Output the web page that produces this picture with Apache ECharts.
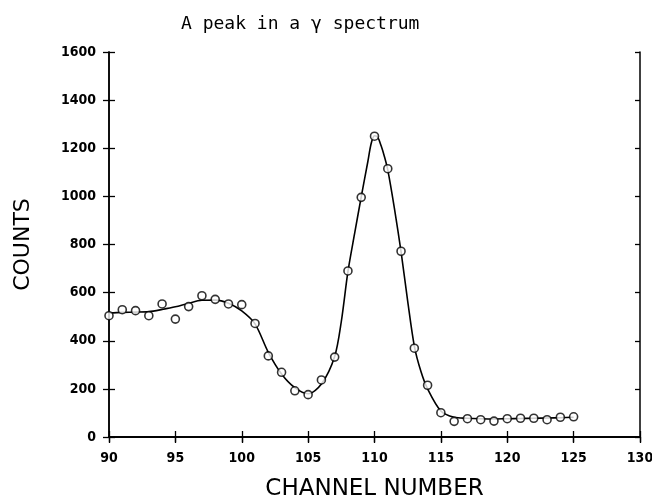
<!DOCTYPE html>
<html>
<head>
<meta charset="utf-8">
<script src="https://cdn.jsdelivr.net/npm/echarts@6/dist/echarts.min.js"></script>
<style>
  html, body { margin: 0; padding: 0; background: #fff; }
  #chart { width: 652px; height: 500px; }
</style>
</head>
<body>
<div id="chart"></div>
<script>
// measured points
const channels = [90, 91, 92, 93, 94, 95, 96, 97, 98, 99, 100, 101, 102, 103, 104, 105, 106, 107,
  108, 109, 110, 111, 112, 113, 114, 115, 116, 117, 118, 119, 120, 121, 122, 123, 124, 125];
const counts = [504, 529, 525, 504, 553, 490, 542, 587, 572, 553, 550, 472, 337, 269, 192, 176, 237, 332,
  690, 996, 1250, 1115, 772, 369, 215, 101, 65, 76, 72, 66, 76, 78, 78, 72, 82, 84];

// fitted curve
const fitX = [90, 91, 92, 93, 94, 95, 96, 97, 98, 99, 100, 101, 102, 103, 104, 105, 106, 107, 107.5,
  108, 108.5, 109, 109.5, 109.75, 110, 110.25, 110.5, 110.75, 111, 111.5, 112, 112.5, 113, 113.5, 114,
  115, 116, 117, 118, 119, 120, 121, 122, 123, 124, 125];
const fitY = [515, 518, 519, 521, 530, 541, 556, 568, 569, 556, 524, 470, 352, 262, 205, 180, 220, 335, 480,
  688, 845, 998, 1145, 1220, 1252, 1245, 1210, 1165, 1110, 950, 770, 565, 378, 272, 200,
  108, 82, 78, 76, 75, 76, 77, 78, 79, 80, 82];

const xTicks = [90, 95, 100, 105, 110, 115, 120, 125, 130];
const yTicks = [0, 200, 400, 600, 800, 1000, 1200, 1400, 1600];

const chart = echarts.init(document.getElementById('chart'));

const axisLine = { show: true, lineStyle: { color: '#000', width: 1.5 } };
const tickStyle = { color: '#000', width: 1.3 };
const labelFont = { color: '#000', fontSize: 14, fontWeight: 'bold',
  fontFamily: 'DejaVu Sans Condensed, DejaVu Sans', formatter: (v) => String(v) };

chart.setOption({
  animation: false,
  backgroundColor: '#fff',
  title: {
    text: 'A peak in a \u03b3 spectrum',
    left: 176,
    top: 10,
    textStyle: { fontFamily: 'DejaVu Sans Mono', fontSize: 18, fontWeight: 'normal', color: '#000' }
  },
  grid: { left: 109, right: 12, top: 52, bottom: 63, outerBoundsMode: 'none', containLabel: false },
  xAxis: [
    {
      type: 'value', min: xTicks[0], max: xTicks[xTicks.length - 1], interval: 5,
      position: 'bottom',
      name: 'CHANNEL NUMBER', nameLocation: 'middle', nameGap: 41,
      nameTextStyle: { fontFamily: 'DejaVu Sans', fontSize: 23, color: '#000' },
      axisLine, axisTick: { show: true, inside: false, length: 6, lineStyle: tickStyle },
      axisLabel: Object.assign({ margin: 14 }, labelFont),
      splitLine: { show: false }
    },
    {
      type: 'value', min: xTicks[0], max: xTicks[xTicks.length - 1], interval: 5,
      position: 'bottom',
      axisLine, axisTick: { show: true, inside: true, length: 6, lineStyle: tickStyle },
      axisLabel: { show: false }, splitLine: { show: false }
    },
    {
      type: 'value', min: xTicks[0], max: xTicks[xTicks.length - 1], interval: 5,
      position: 'top',
      axisLine, axisTick: { show: true, inside: true, length: 5, lineStyle: tickStyle },
      axisLabel: { show: false }, splitLine: { show: false }
    }
  ],
  yAxis: [
    {
      type: 'value', min: yTicks[0], max: yTicks[yTicks.length - 1], interval: 200,
      position: 'left',
      name: 'COUNTS', nameLocation: 'middle', nameGap: 75, nameRotate: 90,
      nameTextStyle: { fontFamily: 'DejaVu Sans', fontSize: 22, color: '#000' },
      axisLine, axisTick: { show: true, inside: false, length: 6, lineStyle: tickStyle },
      axisLabel: Object.assign({ margin: 13 }, labelFont),
      splitLine: { show: false }
    },
    {
      type: 'value', min: yTicks[0], max: yTicks[yTicks.length - 1], interval: 200,
      position: 'left',
      axisLine, axisTick: { show: true, inside: true, length: 6, lineStyle: tickStyle },
      axisLabel: { show: false }, splitLine: { show: false }
    },
    {
      type: 'value', min: yTicks[0], max: yTicks[yTicks.length - 1], interval: 200,
      position: 'right',
      axisLine, axisTick: { show: true, inside: true, length: 5, lineStyle: tickStyle },
      axisLabel: { show: false }, splitLine: { show: false }
    }
  ],
  series: [
    {
      type: 'line',
      data: fitX.map((x, i) => [x, fitY[i]]),
      smooth: 0.3,
      showSymbol: false,
      lineStyle: { color: '#000', width: 1.6 },
      z: 2
    },
    {
      type: 'scatter',
      data: channels.map((c, i) => [c, counts[i]]),
      symbol: 'circle',
      symbolSize: 8,
      itemStyle: { color: '#fff', borderColor: '#000', borderWidth: 1.6 },
      z: 3
    }
  ]
});
</script>
</body>
</html>
